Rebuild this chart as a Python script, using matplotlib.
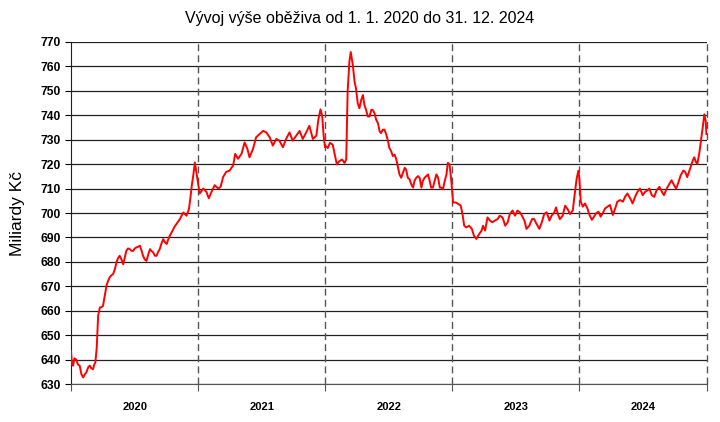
import numpy as np
import pandas as pd
import matplotlib
matplotlib.use("Agg")
import matplotlib.pyplot as plt

plt.rcParams['font.family'] = ['Liberation Sans', 'DejaVu Sans']

# day of year -> billions CZK
days_2020 = [0, 3, 6, 10, 15, 20, 25, 30, 35, 40, 44, 50, 54, 58, 63, 67, 70, 74, 78, 83,
             88, 92, 97, 102, 106, 111, 116, 121, 126, 131, 135, 140, 145, 150, 155, 159,
             164, 169, 174, 179, 183, 188, 193, 198, 203, 207, 212, 217, 222, 227, 231,
             236, 241, 246, 250, 255, 260, 265, 270, 275, 279, 284, 289, 294, 298, 303,
             308, 313, 318, 323, 328, 332, 339, 343, 347, 352, 356, 361]
vals_2020 = [643.5, 638, 637.5, 640.5, 640, 638, 637.5, 634, 632.7, 634, 634.7, 637, 637.5,
             636.5, 636, 638, 638.8, 645, 658, 661.3, 661.5, 662, 666, 670.2, 672, 673.6,
             674.5, 675, 677, 679.8, 681.5, 682.5, 681, 679, 682, 684.5, 685.5, 685.2,
             684.5, 684.5, 685.5, 685.9, 686.2, 686.6, 684.5, 682.5, 681, 680.4, 683,
             685.2, 684.5, 683.9, 682.5, 682.5, 684, 685.2, 687.5, 689.3, 688, 687.3, 689,
             690.7, 692, 693.4, 694.5, 695.5, 696.5, 697.5, 699, 700.2, 699.5, 698.9,
             701.6, 706, 711.1, 716, 720.7, 716]

days_2021 = [0, 4, 14, 23, 30, 38, 47, 57, 64, 71, 80, 90, 100, 106, 114, 124, 133, 141,
             147, 157, 166, 176, 186, 195, 205, 214, 224, 233, 243, 252, 262, 271, 281,
             291, 300, 310, 319, 329, 339, 345, 351, 356, 360, 364]
vals_2021 = [711.4, 708, 710, 708.7, 706, 708.7, 711.4, 710, 710.7, 714.7, 716.8, 717.4,
             719.5, 724.2, 722.2, 724.2, 728.9, 726.2, 722.8, 726.2, 731, 732.3, 733.6,
             733, 731, 727.6, 730.3, 729.6, 726.9, 730.3, 733, 729.6, 731.6, 733.6,
             730.3, 733, 735.7, 730.3, 731.6, 738.4, 742.4, 739.7, 731.6, 726.9]

days_2022 = [2, 7, 13, 21, 26, 33, 40, 48, 55, 60, 64, 69, 73, 79, 84, 88, 93, 98, 103,
             108, 112, 117, 122, 127, 132, 136, 141, 146, 151, 156, 160, 165, 170, 175,
             180, 184, 189, 194, 199, 204, 208, 213, 218, 223, 228, 232, 237, 242, 247,
             252, 256, 261, 266, 271, 276, 280, 285, 290, 295, 300, 304, 309, 314, 319,
             324, 329, 333, 338, 343, 348, 352, 357, 362]
vals_2022 = [727.3, 726.6, 728.7, 728, 724.6, 719.9, 721.2, 721.9, 720.5, 721.9, 749.7,
             761.9, 765.9, 760.5, 753.7, 751, 744.9, 742.9, 746.3, 748.3, 744.3, 742.2,
             739.5, 739.5, 742.2, 742.2, 740.9, 738.2, 736.8, 733.4, 732.7, 734.1, 734.1,
             732.1, 729.4, 726.6, 725.3, 723.3, 723.9, 721.9, 719.2, 715.8, 714.4, 716.5,
             718.5, 717.8, 714.4, 713.8, 711.7, 710.4, 713.1, 714.4, 715.1, 714.4, 710.4,
             713.1, 714.4, 715.1, 715.8, 713.1, 710.4, 710.4, 713.1, 715.8, 714.4, 710.4,
             710.4, 709.7, 713.1, 715.8, 720.5, 719.9, 713.1]

days_2023 = [2, 10, 17, 24, 29, 34, 40, 48, 56, 62, 69, 77, 84, 88, 94, 101, 108, 115,
             122, 130, 136, 144, 152, 159, 165, 173, 180, 187, 194, 200, 207, 213, 221,
             229, 235, 242, 250, 257, 264, 271, 279, 285, 293, 298, 303, 309, 317, 324,
             331, 338, 346, 351, 357, 362]
vals_2023 = [704.3, 704.3, 703.7, 703, 699.6, 694.8, 694.1, 694.8, 693.5, 690.7, 689.4,
             691.4, 692.8, 694.8, 692.8, 698.2, 696.9, 696.2, 696.9, 697.5, 698.9, 698.2,
             694.8, 696.2, 699.6, 701, 698.9, 701, 700.3, 698.9, 696.9, 693.5, 694.8,
             697.5, 697.5, 695.5, 693.5, 696.2, 699.6, 700.3, 696.9, 698.9, 700.3, 702.3,
             699.6, 697.5, 698.9, 703, 701.6, 699.6, 701, 707.1, 713.9, 717.3]

days_2024 = [0, 4, 10, 16, 23, 29, 36, 42, 48, 55, 61, 67, 74, 81, 88, 96, 103, 109, 117,
             125, 131, 138, 146, 153, 160, 167, 174, 182, 189, 196, 201, 208, 215, 222,
             230, 237, 243, 251, 259, 265, 272, 278, 285, 291, 299, 304, 310, 318, 326,
             330, 335, 339, 345, 350, 355, 359, 363, 365]
vals_2024 = [714, 704.6, 702.6, 703.9, 701.9, 699.2, 697.2, 698.5, 699.9, 700.5, 698.5,
             699.9, 701.9, 702.6, 703.3, 699.2, 701.9, 704.6, 705.3, 704.6, 706.6, 708,
             706, 703.9, 706.6, 708.7, 710, 707.3, 708.7, 709.3, 710, 707.3, 706.6, 709.3,
             710.7, 708.7, 707.3, 710, 712, 713.4, 711.4, 710, 712.7, 715.4, 717.4, 716.8,
             714.7, 718.1, 721.5, 722.8, 720.8, 720.1, 724.9, 730.3, 735.7, 740.4, 737.7,
             732.3]

years = [2020, 2021, 2022, 2023, 2024]
year_days = [days_2020, days_2021, days_2022, days_2023, days_2024]
year_vals = [vals_2020, vals_2021, vals_2022, vals_2023, vals_2024]

dates = []
values = []
for y, dd, vv in zip(years, year_days, year_vals):
    dates += [pd.Timestamp(y, 1, 1) + pd.Timedelta(days=d) for d in dd]
    values += vv

fig = plt.figure(figsize=(7.2, 4.22), dpi=100)
ax = fig.add_axes([0.0986, 0.09, 0.883, 0.8105])

ax.plot(dates, values, color='red', lw=1.4, zorder=3)

ax.set_ylim(630, 770)
ax.set_yticks(np.arange(630, 771, 10))
ax.yaxis.grid(True, color='#222222', lw=0.9)
ax.set_axisbelow(True)
ax.set_xlim(pd.Timestamp(2020, 1, 1), pd.Timestamp(2025, 1, 1))

# year boundaries, dashed
bounds = [pd.Timestamp(y, 1, 1) for y in years] + [pd.Timestamp(2025, 1, 1)]
for b in bounds[1:]:
    ax.axvline(b, color='#555555', lw=1, ls=(0, (5, 3)), zorder=2, clip_on=False)

ax.set_xticks(bounds)
ax.set_xticklabels([])
mids = [pd.Timestamp(y, 7, 2) for y in years]
ax.set_xticks(mids, minor=True)
ax.set_xticklabels([str(y) for y in years], minor=True, fontsize=8, fontweight='bold')
ax.tick_params(axis='x', which='minor', length=0, pad=13)
ax.tick_params(axis='x', which='major', length=5, color='#555555')
ax.tick_params(axis='y', length=4, labelsize=8.7)
for lbl in ax.get_yticklabels():
    lbl.set_fontweight('bold')

ax.spines['right'].set_visible(False)
ax.spines['top'].set_visible(False)
ax.spines['left'].set_color('#222222')
ax.spines['bottom'].set_color('#555555')

ax.set_ylabel('Miliardy Kč', fontsize=12.5, labelpad=11)
fig.suptitle('Vývoj výše oběživa od 1. 1. 2020 do 31. 12. 2024', fontsize=11.5, y=0.975)

fig.savefig('out.png', dpi=100)
